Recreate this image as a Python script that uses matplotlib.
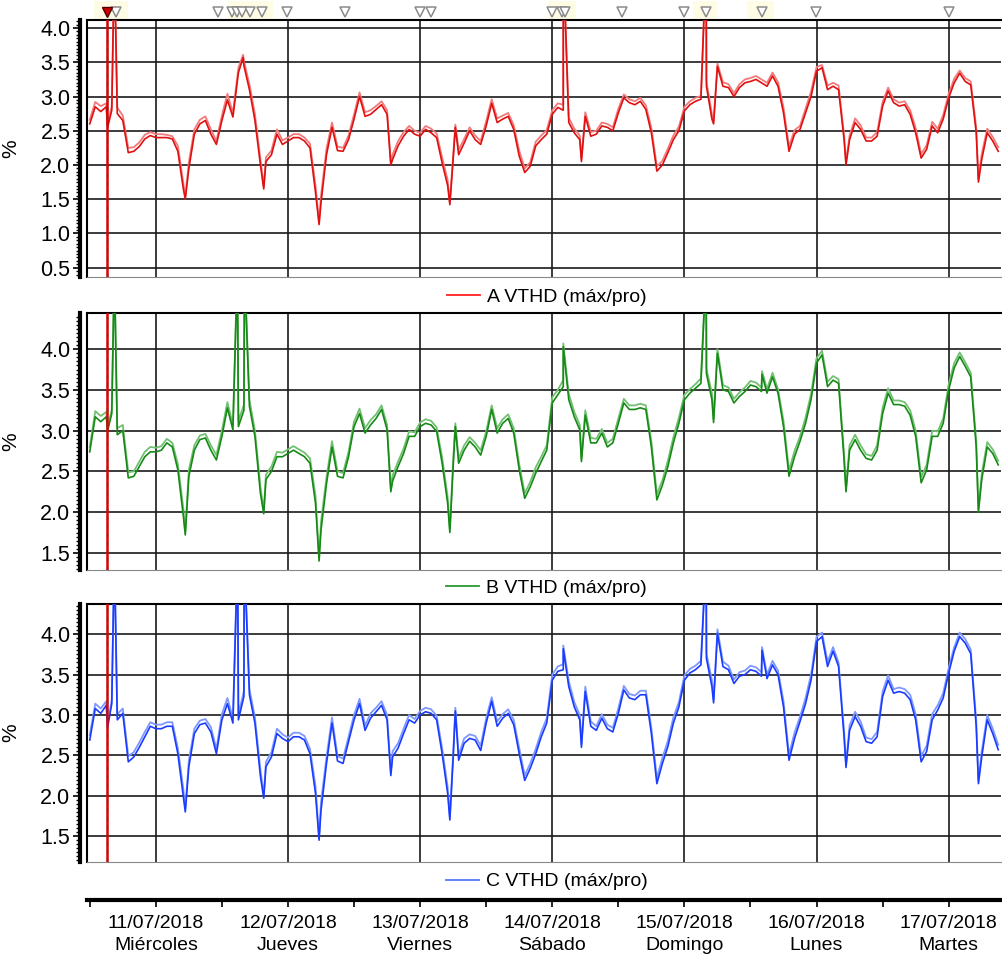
import matplotlib.pyplot as plt
from matplotlib.lines import Line2D
from matplotlib.patches import Rectangle
from matplotlib.ticker import MultipleLocator, FixedLocator
import numpy as np

# horas contadas desde 10/07/2018 00:00, una muestra por hora (12h .. 177h)
horas = np.arange(12, 178)

A_pro = [2.60, 2.85, 2.78, 2.85, 2.80, 2.75, 2.65, 2.18, 2.20, 2.27,
         2.38, 2.43, 2.40, 2.40, 2.40, 2.38, 2.20, 1.65, 1.95, 2.45,
         2.60, 2.65, 2.45, 2.30, 2.65, 2.95, 2.70, 3.35, 3.45, 3.10,
         2.65, 2.00, 2.05, 2.15, 2.45, 2.30, 2.35, 2.40, 2.40, 2.35,
         2.25, 1.60, 1.45, 2.15, 2.55, 2.21, 2.20, 2.37, 2.67, 3.00,
         2.71, 2.74, 2.81, 2.88, 2.74, 2.08, 2.28, 2.42, 2.52, 2.45,
         2.42, 2.52, 2.47, 2.40, 2.03, 1.70, 2.08, 2.15, 2.32, 2.50,
         2.37, 2.30, 2.57, 2.90, 2.62, 2.67, 2.71, 2.52, 2.13, 1.89,
         1.98, 2.28, 2.37, 2.45, 2.74, 2.84, 2.80, 2.62, 2.47, 2.37,
         2.71, 2.42, 2.45, 2.57, 2.55, 2.50, 2.76, 2.98, 2.91, 2.88,
         2.93, 2.81, 2.47, 1.91, 2.00, 2.18, 2.37, 2.50, 2.79, 2.88,
         2.93, 2.96, 3.15, 2.67, 3.44, 3.15, 3.13, 3.00, 3.13, 3.20,
         3.22, 3.25, 3.20, 3.15, 3.30, 3.15, 2.76, 2.20, 2.45, 2.52,
         2.76, 3.00, 3.37, 3.42, 3.10, 3.15, 3.10, 2.37, 2.37, 2.62,
         2.52, 2.35, 2.35, 2.42, 2.86, 3.08, 2.91, 2.86, 2.88, 2.74,
         2.47, 2.10, 2.23, 2.57, 2.47, 2.67, 2.98, 3.20, 3.34, 3.22,
         3.17, 2.47, 2.08, 2.47, 2.35, 2.20]
A_max = [2.66, 2.92, 2.86, 2.90, 2.86, 2.84, 2.72, 2.25, 2.26, 2.33,
         2.44, 2.48, 2.45, 2.45, 2.44, 2.42, 2.28, 1.74, 2.04, 2.52,
         2.66, 2.71, 2.52, 2.35, 2.72, 3.04, 2.76, 3.42, 3.52, 3.18,
         2.74, 2.08, 2.11, 2.21, 2.52, 2.36, 2.40, 2.45, 2.45, 2.40,
         2.31, 1.70, 1.55, 2.24, 2.62, 2.27, 2.25, 2.43, 2.74, 3.06,
         2.77, 2.80, 2.86, 2.93, 2.80, 2.15, 2.35, 2.48, 2.57, 2.50,
         2.47, 2.57, 2.53, 2.46, 2.11, 1.78, 2.15, 2.22, 2.38, 2.55,
         2.43, 2.35, 2.64, 2.96, 2.68, 2.72, 2.76, 2.58, 2.21, 1.95,
         2.04, 2.34, 2.43, 2.51, 2.80, 2.90, 2.88, 2.69, 2.53, 2.43,
         2.77, 2.48, 2.50, 2.62, 2.60, 2.55, 2.82, 3.03, 2.96, 2.93,
         2.98, 2.87, 2.54, 1.98, 2.06, 2.24, 2.43, 2.56, 2.85, 2.93,
         2.98, 3.01, 3.22, 2.74, 3.48, 3.21, 3.18, 3.05, 3.18, 3.25,
         3.27, 3.30, 3.25, 3.20, 3.35, 3.21, 2.84, 2.27, 2.51, 2.57,
         2.82, 3.07, 3.43, 3.46, 3.16, 3.20, 3.16, 2.44, 2.43, 2.68,
         2.58, 2.40, 2.40, 2.48, 2.92, 3.13, 2.96, 2.91, 2.93, 2.80,
         2.54, 2.16, 2.29, 2.63, 2.53, 2.73, 3.04, 3.26, 3.38, 3.27,
         3.22, 2.55, 2.16, 2.53, 2.41, 2.26]

B_pro = [2.74, 3.17, 3.11, 3.17, 3.21, 2.95, 3.00, 2.42, 2.44, 2.56,
         2.68, 2.74, 2.74, 2.76, 2.85, 2.80, 2.52, 1.95, 2.44, 2.76,
         2.89, 2.91, 2.76, 2.64, 2.93, 3.28, 3.01, 3.05, 3.25, 3.30,
         2.93, 2.23, 2.40, 2.50, 2.68, 2.68, 2.72, 2.76, 2.72, 2.68,
         2.60, 2.11, 1.78, 2.35, 2.80, 2.44, 2.42, 2.68, 3.05, 3.21,
         2.97, 3.07, 3.15, 3.26, 3.01, 2.38, 2.56, 2.72, 2.93, 2.93,
         3.05, 3.09, 3.07, 2.99, 2.60, 2.11, 2.56, 2.60, 2.76, 2.87,
         2.80, 2.70, 2.93, 3.26, 2.97, 3.09, 3.15, 2.97, 2.52, 2.17,
         2.31, 2.48, 2.62, 2.76, 3.34, 3.44, 3.54, 3.38, 3.17, 3.01,
         3.19, 2.85, 2.85, 2.97, 2.80, 2.85, 3.09, 3.34, 3.26, 3.26,
         3.28, 3.26, 2.80, 2.15, 2.33, 2.56, 2.85, 3.09, 3.38, 3.46,
         3.52, 3.58, 3.70, 3.38, 3.95, 3.50, 3.48, 3.34, 3.42, 3.48,
         3.56, 3.54, 3.48, 3.46, 3.66, 3.46, 3.05, 2.44, 2.68, 2.87,
         3.09, 3.38, 3.83, 3.93, 3.54, 3.62, 3.58, 2.64, 2.76, 2.89,
         2.76, 2.66, 2.64, 2.76, 3.21, 3.46, 3.32, 3.32, 3.30, 3.19,
         2.93, 2.36, 2.52, 2.93, 2.93, 3.09, 3.50, 3.77, 3.91, 3.79,
         3.66, 2.80, 2.40, 2.80, 2.72, 2.58]
B_max = [2.80, 3.24, 3.18, 3.23, 3.26, 3.03, 3.07, 2.49, 2.50, 2.62,
         2.74, 2.80, 2.79, 2.81, 2.90, 2.85, 2.59, 2.04, 2.52, 2.82,
         2.94, 2.96, 2.82, 2.70, 3.00, 3.35, 3.07, 3.12, 3.32, 3.38,
         3.00, 2.31, 2.46, 2.56, 2.74, 2.73, 2.77, 2.81, 2.77, 2.73,
         2.66, 2.20, 1.88, 2.43, 2.87, 2.50, 2.48, 2.74, 3.11, 3.27,
         3.03, 3.13, 3.20, 3.31, 3.07, 2.45, 2.62, 2.78, 2.99, 2.98,
         3.10, 3.14, 3.12, 3.04, 2.67, 2.19, 2.63, 2.66, 2.82, 2.92,
         2.85, 2.76, 2.99, 3.31, 3.03, 3.14, 3.20, 3.03, 2.59, 2.23,
         2.37, 2.55, 2.68, 2.82, 3.41, 3.50, 3.62, 3.45, 3.23, 3.07,
         3.25, 2.91, 2.90, 3.02, 2.85, 2.90, 3.15, 3.39, 3.31, 3.31,
         3.33, 3.31, 2.87, 2.22, 2.39, 2.63, 2.92, 3.16, 3.44, 3.51,
         3.57, 3.64, 3.76, 3.46, 4.00, 3.56, 3.53, 3.39, 3.47, 3.53,
         3.61, 3.59, 3.53, 3.51, 3.71, 3.51, 3.12, 2.51, 2.75, 2.93,
         3.16, 3.45, 3.89, 3.98, 3.60, 3.67, 3.63, 2.71, 2.82, 2.95,
         2.82, 2.71, 2.69, 2.82, 3.28, 3.52, 3.37, 3.37, 3.35, 3.25,
         3.00, 2.43, 2.58, 3.00, 2.99, 3.15, 3.57, 3.83, 3.96, 3.84,
         3.71, 2.88, 2.47, 2.86, 2.77, 2.63]

C_pro = [2.69, 3.08, 3.02, 3.12, 3.14, 2.94, 3.02, 2.42, 2.48, 2.60,
         2.73, 2.86, 2.83, 2.83, 2.86, 2.86, 2.52, 1.99, 2.36, 2.77,
         2.88, 2.90, 2.79, 2.52, 2.94, 3.14, 2.90, 2.94, 3.23, 3.25,
         2.90, 2.24, 2.36, 2.48, 2.77, 2.71, 2.67, 2.73, 2.73, 2.69,
         2.52, 2.03, 1.82, 2.40, 2.90, 2.43, 2.40, 2.67, 2.94, 3.14,
         2.81, 2.96, 3.04, 3.12, 2.94, 2.48, 2.59, 2.77, 2.94, 2.90,
         3.00, 3.04, 3.02, 2.94, 2.52, 2.03, 2.46, 2.44, 2.65, 2.71,
         2.69, 2.56, 2.90, 3.17, 2.86, 2.96, 3.02, 2.88, 2.52, 2.19,
         2.34, 2.52, 2.73, 2.90, 3.43, 3.54, 3.56, 3.35, 3.10, 2.94,
         3.29, 2.86, 2.81, 2.96, 2.83, 2.79, 3.02, 3.31, 3.21, 3.19,
         3.25, 3.25, 2.77, 2.15, 2.40, 2.61, 2.90, 3.10, 3.43, 3.52,
         3.56, 3.62, 3.70, 3.35, 4.01, 3.60, 3.56, 3.39, 3.48, 3.50,
         3.56, 3.54, 3.48, 3.45, 3.62, 3.50, 3.10, 2.44, 2.71, 2.92,
         3.14, 3.43, 3.91, 3.97, 3.60, 3.79, 3.60, 2.73, 2.81, 2.98,
         2.86, 2.67, 2.65, 2.73, 3.23, 3.43, 3.27, 3.29, 3.27, 3.19,
         2.94, 2.42, 2.55, 2.94, 3.06, 3.21, 3.52, 3.79, 3.97, 3.89,
         3.76, 2.86, 2.48, 2.94, 2.77, 2.57]
C_max = [2.75, 3.14, 3.08, 3.17, 3.19, 3.01, 3.08, 2.49, 2.54, 2.66,
         2.79, 2.91, 2.88, 2.88, 2.91, 2.91, 2.59, 2.08, 2.44, 2.83,
         2.93, 2.95, 2.85, 2.58, 3.01, 3.21, 2.96, 3.00, 3.30, 3.32,
         2.97, 2.32, 2.42, 2.54, 2.83, 2.76, 2.72, 2.78, 2.78, 2.74,
         2.58, 2.12, 1.92, 2.48, 2.97, 2.49, 2.46, 2.73, 3.00, 3.20,
         2.87, 3.02, 3.09, 3.17, 3.00, 2.55, 2.65, 2.83, 3.00, 2.95,
         3.05, 3.09, 3.07, 2.99, 2.59, 2.11, 2.53, 2.50, 2.71, 2.76,
         2.74, 2.62, 2.96, 3.22, 2.92, 3.01, 3.07, 2.94, 2.59, 2.25,
         2.40, 2.58, 2.79, 2.96, 3.50, 3.60, 3.63, 3.42, 3.16, 3.00,
         3.35, 2.92, 2.86, 3.01, 2.88, 2.84, 3.08, 3.36, 3.26, 3.24,
         3.30, 3.30, 2.84, 2.22, 2.47, 2.68, 2.97, 3.16, 3.49, 3.57,
         3.61, 3.67, 3.76, 3.43, 4.06, 3.66, 3.61, 3.44, 3.53, 3.55,
         3.61, 3.59, 3.53, 3.50, 3.67, 3.55, 3.17, 2.51, 2.78, 2.98,
         3.21, 3.50, 3.97, 4.02, 3.66, 3.84, 3.65, 2.80, 2.87, 3.04,
         2.92, 2.72, 2.70, 2.79, 3.29, 3.49, 3.32, 3.34, 3.32, 3.25,
         3.01, 2.49, 2.62, 3.01, 3.12, 3.27, 3.58, 3.84, 4.02, 3.94,
         3.81, 2.93, 2.55, 3.00, 2.83, 2.63]

# picos y caídas breves (hora, valor)
A_pico_t = [15.25, 16.47, 29.35, 39.86, 43.6, 53.65, 66.68, 77.4, 78.4,
            98.0, 101.3, 123.95, 125.3, 149.35, 173.4]
A_pico_v = [2.55, 5.0, 1.50, 3.57, 1.65, 1.13, 2.00, 1.42, 2.55,
            5.0, 2.05, 5.0, 2.60, 2.00, 1.75]
B_pico_t = [15.25, 16.47, 29.35, 38.82, 40.1, 43.6, 53.65, 66.68, 77.4,
            78.4, 98.0, 101.3, 123.95, 125.3, 134.1, 149.35, 173.4]
B_pico_v = [3.00, 5.0, 1.72, 5.0, 5.0, 1.98, 1.40, 2.25, 1.75,
            3.05, 4.03, 2.62, 5.0, 3.10, 3.69, 2.25, 2.00]
C_pico_t = [15.25, 16.47, 29.35, 38.85, 40.05, 43.6, 53.65, 66.68, 77.4,
            78.4, 98.0, 101.3, 123.95, 125.3, 134.1, 149.35, 173.4]
C_pico_v = [2.85, 5.0, 1.80, 5.0, 5.0, 1.97, 1.45, 2.25, 1.70,
            3.05, 3.82, 2.60, 5.0, 3.15, 3.80, 2.35, 2.15]

# eventos (triángulos arriba) y zonas resaltadas
cursor_t = 15.22
eventos_t = [16.74, 35.36, 37.79, 38.69, 39.60, 41.11, 43.34, 47.87, 58.34,
             71.95, 73.89, 96.02, 97.83, 98.25, 108.64, 119.89, 123.95,
             134.04, 143.91, 168.09]
zonas = [(12.7, 19.0), (37.1, 45.3), (95.2, 100.4), (121.5, 126.0), (131.4, 136.3)]

dias_h = [24, 48, 72, 96, 120, 144, 168]
fechas = ['11/07/2018', '12/07/2018', '13/07/2018', '14/07/2018',
          '15/07/2018', '16/07/2018', '17/07/2018']
dias = ['Miércoles', 'Jueves', 'Viernes', 'Sábado', 'Domingo', 'Lunes', 'Martes']
medio_dia_h = [12, 36, 60, 84, 108, 132, 156]

plt.rcParams['font.family'] = ['Liberation Sans', 'DejaVu Sans']

W, H = 1002, 963
fig = plt.figure(figsize=(W / 100, H / 100), dpi=100)


def ejes(top, bottom):
    return fig.add_axes([87 / W, 1 - bottom / H, (1001 - 87) / W, (bottom - top) / H])


def serie(valores, pt, pv):
    t = np.concatenate([horas, pt])
    v = np.concatenate([valores, pv])
    o = np.argsort(t, kind='stable')
    return t[o], v[o]


paneles = [
    dict(top=20.5, bottom=277, ylim=(0.364, 4.11), ticks=[0.5, 1.0, 1.5, 2.0, 2.5, 3.0, 3.5, 4.0],
         pro=A_pro, mx=A_max, pt=A_pico_t, pv=A_pico_v, c='#e01010', c2='#f27a7a',
         leg='#ff2020', nombre='A VTHD (máx/pro)', ly=-0.078),
    dict(top=313.3, bottom=570, ylim=(1.29, 4.44), ticks=[1.5, 2.0, 2.5, 3.0, 3.5, 4.0],
         pro=B_pro, mx=B_max, pt=B_pico_t, pv=B_pico_v, c='#168a16', c2='#72c072',
         leg='#2a9a2a', nombre='B VTHD (máx/pro)', ly=-0.070),
    dict(top=604.3, bottom=862, ylim=(1.18, 4.37), ticks=[1.5, 2.0, 2.5, 3.0, 3.5, 4.0],
         pro=C_pro, mx=C_max, pt=C_pico_t, pv=C_pico_v, c='#1a3cff', c2='#7e98ff',
         leg='#5577ff', nombre='C VTHD (máx/pro)', ly=-0.076),
]

axs = []
for p in paneles:
    ax = ejes(p['top'], p['bottom'])
    axs.append(ax)
    tm, vm = serie(p['mx'], p['pt'], np.array(p['pv']) + 0.04)
    tp, vp = serie(p['pro'], p['pt'], p['pv'])
    ax.plot(tm, vm, color=p['c2'], lw=1.3, zorder=3)
    ax.plot(tp, vp, color=p['c'], lw=1.2, zorder=4)

    ax.set_xlim(11.5, 177.5)
    ax.set_ylim(*p['ylim'])
    ax.set_yticks(p['ticks'])
    ax.set_yticklabels(['%.1f' % t for t in p['ticks']])
    ax.yaxis.set_minor_locator(MultipleLocator(0.05))
    ax.xaxis.set_major_locator(FixedLocator(dias_h))
    ax.tick_params(axis='x', length=0, labelbottom=False)
    ax.tick_params(axis='y', which='major', length=5, width=1.2, pad=2, labelsize=15.5)
    ax.tick_params(axis='y', which='minor', length=3, width=1)
    ax.grid(True, which='major', color='#1a1a1a', lw=1.2)
    ax.set_axisbelow(True)

    ax.spines['left'].set_position(('outward', 5))
    ax.spines['left'].set_linewidth(3)
    ax.spines['right'].set_visible(False)
    ax.spines['top'].set_linewidth(1.5)
    ax.spines['bottom'].set_color('#888888')
    ax.plot([0, 0], [0, 1], transform=ax.transAxes, color='black', lw=1.5, clip_on=False)

    ax.set_ylabel('%', fontsize=15)
    ax.yaxis.set_label_coords(-0.073, 0.5)

    # cursor
    ax.axvline(cursor_t, color='#e00000', lw=1.8, zorder=6)
    ax.axvline(cursor_t, color='#444444', lw=1, ls=(0, (3, 3)), zorder=7)

    ax.legend(handles=[Line2D([0], [0], color=p['leg'], lw=1.3)], labels=[p['nombre']],
              loc='center', bbox_to_anchor=(0.503, p['ly']), frameon=False, fontsize=14,
              handlelength=1.7, handletextpad=0.35, borderpad=0)

# marcadores de eventos sobre el primer panel
ax1 = axs[0]
for t0, t1 in zonas:
    ax1.add_patch(Rectangle((t0, 1.0), t1 - t0, 0.075, transform=ax1.get_xaxis_transform(),
                            facecolor='#fffce6', edgecolor='none', clip_on=False, zorder=0))
ax1.plot(eventos_t, [1.033] * len(eventos_t), transform=ax1.get_xaxis_transform(),
         marker='v', ls='none', mfc='white', mec='#8a8a8a', ms=7, mew=1.1, clip_on=False)
ax1.plot([cursor_t], [1.033], transform=ax1.get_xaxis_transform(),
         marker='v', ls='none', mfc='#d00000', mec='#500000', ms=7.5, clip_on=False)

# eje de tiempo inferior
tax = fig.add_axes([87 / W, 1 - 900 / H, (1001 - 87) / W, 0.5 / H])
tax.set_xlim(11.5, 177.5)
tax.set_yticks([])
for s in ['left', 'right', 'top']:
    tax.spines[s].set_visible(False)
tax.spines['bottom'].set_linewidth(3)
tax.set_xticks(dias_h)
tax.set_xticklabels([f + '\n' + d for f, d in zip(fechas, dias)], fontsize=14, linespacing=1.4)
tax.set_xticks(medio_dia_h, minor=True)
tax.tick_params(axis='x', which='both', length=5, width=1.2, pad=6)
tax.patch.set_visible(False)

fig.savefig('out.png', dpi=100)
